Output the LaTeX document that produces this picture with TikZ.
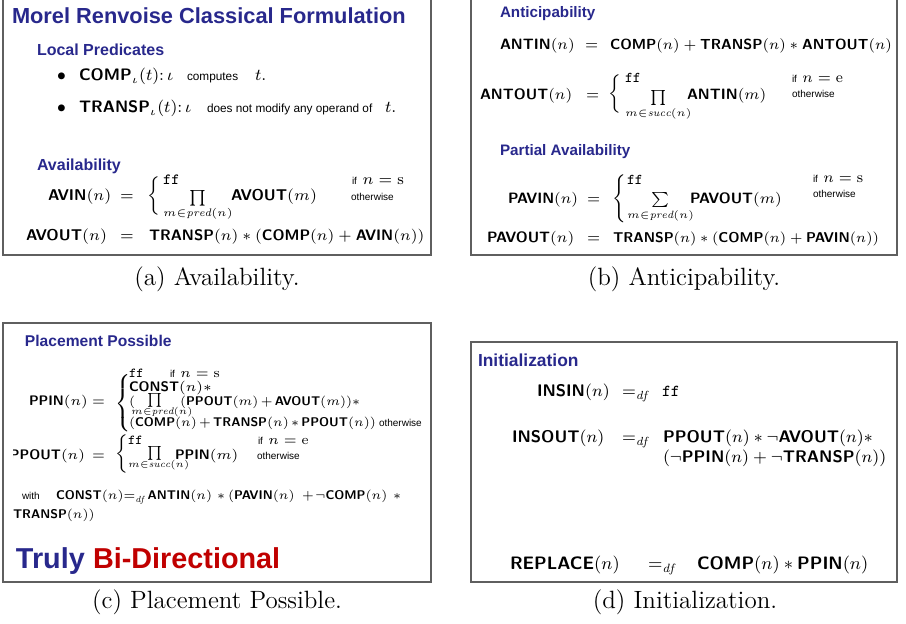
\RequirePackage{fix-cm}
\documentclass[tikz,border=0pt]{standalone}
\usepackage{amsmath}
\usepackage{fontspec}
\newfontfamily\hv{Liberation Sans}
\definecolor{slideblue}{RGB}{40,40,140}
\definecolor{slidered}{RGB}{192,0,0}
\definecolor{panelgray}{RGB}{95,95,95}
% predicate names in bold sans
\newcommand{\Nm}[1]{\mbox{\sffamily\bfseries #1}}
\newcommand{\setsz}[1]{\fontsize{#1}{#1}\selectfont}
% an open brace of a given height, centred on the math axis
\newcommand{\lbr}[1]{$\left\{\vcenter{\hbox{\rule{0pt}{#1pt}}}\right.$}
\begin{document}
\begin{tikzpicture}[x=0.5pt,y=-0.5pt,
  txt/.style={inner sep=0pt,outer sep=0pt,anchor=base west},
  ttl/.style={txt,text=slideblue,font=\hv\bfseries\setsz{10.9}},
  hd/.style={txt,text=slideblue,font=\hv\bfseries\setsz{8}},
  eqa/.style={txt,font=\setsz{7.8}},
  eqbb/.style={txt,font=\setsz{7.5}},
  eqd/.style={txt,font=\setsz{8.4}},
  eqb/.style={txt,font=\setsz{8.3}},
  eqc/.style={txt,font=\setsz{6.9}},
  eqcs/.style={txt,font=\setsz{6.3}},
  eqw/.style={txt,font=\setsz{6.3}},
  sm/.style={txt,font=\hv\setsz{5}},
  smb/.style={txt,font=\hv\setsz{5.9}},
  brace/.style={inner sep=0pt,outer sep=0pt,anchor=west,font=\setsz{8}},
  capt/.style={inner sep=0pt,outer sep=0pt,anchor=base,font=\setsz{12.5}},
  panel/.style={draw=panelgray,line width=0.75pt}]
\useasboundingbox (0,0) rectangle (906,624);

% ---------------- (a) Availability ----------------
\draw[panel] (3,-6) rectangle (431,255);
\node[ttl] (ttlA) at (12,24) {Morel Renvoise Classical Formulation};
\node[hd] (lpA) at (37,56) {Local Predicates};
\node[eqb] (bu1) at (57,81) {$\bullet$};
\node[eqb] (cmpA) at (79,81) {$\Nm{COMP}_{\iota}(t)$:};
\node[eqb] (io1) at (167,81) {$\iota$};
\node[smb] (cpt) at (187,81) {computes};
\node[eqb] (t1) at (255,81) {$t$.};
\node[eqb] (bu2) at (57,113) {$\bullet$};
\node[eqb] (trA) at (79,113) {$\Nm{TRANSP}_{\iota}(t)$:};
\node[eqb] (io2) at (185,113) {$\iota$};
\node[smb] (dnm) at (207,113) {does not modify any operand of};
\node[eqb] (t2) at (385,113) {$t$.};

\node[hd] (avA) at (37,171) {Availability};
\node[eqa] (avin) at (48,201) {$\Nm{AVIN}(n)$};
\node[eqa] (eqA1) at (120,201) {$=$};
\node[brace] (brA) at (147,196) {\lbr{21}};
\node[eqa] (ffA) at (163,185) {$\mathtt{ff}$};
\node[eqa] (prA) at (163,202) {$\prod\limits_{m\in\mathit{pred}(n)}$};
\node[eqa] (avm) at (231,201) {$\Nm{AVOUT}(m)$};
\node[eqa] (ifA) at (352,185) {{\hv\setsz{5}if}\ $n=\mathrm{s}$};
\node[sm] (owA) at (351,201) {otherwise};
\node[eqa] (avout) at (26,241) {$\Nm{AVOUT}(n)$};
\node[eqa] (eqA2) at (120,241) {$=$};
\node[eqa,font=\setsz{7.6}] (rhsA) at (149,241) {$\Nm{TRANSP}(n)*(\Nm{COMP}(n)+\Nm{AVIN}(n))$};
\node[capt] (capA) at (217,286) {(a) Availability.};

% ---------------- (b) Anticipability ----------------
\draw[panel] (471,-6) rectangle (897,255);
\node[hd,font=\hv\bfseries\setsz{7.6}] (antB) at (500,18) {Anticipability};
\node[eqbb] (antin) at (500,50) {$\Nm{ANTIN}(n)$};
\node[eqbb] (eqB1) at (585,50) {$=$};
\node[eqbb,font=\setsz{7.3}] (rhsB1) at (610,50) {$\Nm{COMP}(n)+\Nm{TRANSP}(n)*\Nm{ANTOUT}(n)$};
\node[eqbb] (antout) at (480,100) {$\Nm{ANTOUT}(n)$};
\node[eqbb] (eqB2) at (586,100) {$=$};
\node[brace] (brB1) at (608,94) {\lbr{21}};
\node[eqbb] (ffB1) at (625,83) {$\mathtt{ff}$};
\node[eqbb] (prB) at (625,102) {$\prod\limits_{m\in\mathit{succ}(n)}$};
\node[eqbb] (antm) at (687,100) {$\Nm{ANTIN}(m)$};
\node[eqbb] (ifB1) at (792,83) {{\hv\setsz{5}if}\ $n=\mathrm{e}$};
\node[sm] (owB1) at (792,98) {otherwise};

\node[hd,font=\hv\bfseries\setsz{7.6}] (pavB) at (500,156) {Partial Availability};
\node[eqbb] (pavin) at (508,204) {$\Nm{PAVIN}(n)$};
\node[eqbb] (eqB3) at (587,204) {$=$};
\node[brace] (brB2) at (612,198.5) {\lbr{24}};
\node[eqbb] (ffB2) at (627,185) {$\mathtt{ff}$};
\node[eqbb] (smB) at (627,204) {$\sum\limits_{m\in\mathit{pred}(n)}$};
\node[eqbb] (pavm) at (690,204) {$\Nm{PAVOUT}(m)$};
\node[eqbb] (ifB2) at (813,183) {{\hv\setsz{5}if}\ $n=\mathrm{s}$};
\node[sm] (owB2) at (813,198) {otherwise};
\node[eqbb] (pavout) at (487,243) {$\Nm{PAVOUT}(n)$};
\node[eqbb] (eqB4) at (587,243) {$=$};
\node[eqbb,font=\setsz{7.1}] (rhsB2) at (613,243) {$\Nm{TRANSP}(n)*(\Nm{COMP}(n)+\Nm{PAVIN}(n))$};
\node[capt] (capB) at (684,286) {(b) Anticipability.};

% ---------------- (c) Placement Possible ----------------
\draw[panel] (3,323) rectangle (431,582);
\node[hd,font=\hv\bfseries\setsz{7.8}] (ppC) at (25,347) {Placement Possible};
\node[eqc] (ppin) at (29,406) {$\Nm{PPIN}(n)$};
\node[eqc] (eqC1) at (92,406) {$=$};
\node[brace] (brC1) at (115,403.5) {\lbr{29}};
\node[eqc] (ffC1) at (129,378) {$\mathtt{ff}$};
\node[eqc] (ifC1) at (170,378) {{\hv\setsz{5}if}\ $n=\mathrm{s}$};
\node[eqc] (cst) at (129,392) {$\Nm{CONST}(n)*$};
\node[eqcs] (opC) at (129,406) {$($};
\node[eqc] (prC1) at (147,403.5) {$\prod$};
\node[eqc] (subC1) at (131,415) {$\scriptstyle m\in\mathit{pred}(n)$};
\node[eqcs] (sumC) at (180,406) {$\medmuskip=2.5mu (\Nm{PPOUT}(m)+\Nm{AVOUT}(m))*$};
\node[eqcs] (lastC) at (129,427) {$\medmuskip=2.5mu (\Nm{COMP}(n)+\Nm{TRANSP}(n)*\Nm{PPOUT}(n))$};
\node[sm] (owC1) at (379,427) {otherwise};

\begin{scope}
  \clip (13.5,430) rectangle (120,475);
  \node[eqc] (ppout) at (10,460) {$\Nm{PPOUT}(n)$};
\end{scope}
\node[eqc] (eqC2) at (92,460) {$=$};
\node[brace] (brC2) at (115,454) {\lbr{19}};
\node[eqc] (ffC2) at (128,445) {$\mathtt{ff}$};
\node[eqc] (prC2) at (147,457) {$\prod$};
\node[eqc] (subC2) at (128,468) {$\scriptstyle m\in\mathit{succ}(n)$};
\node[eqc] (ppm) at (175,460) {$\Nm{PPIN}(m)$};
\node[eqc] (ifC2) at (258,445) {{\hv\setsz{5}if}\ $n=\mathrm{e}$};
\node[sm] (owC2) at (257,460) {otherwise};

\node[sm] (with) at (22,500) {with};
\node[eqw] (cdef) at (56,500) {$\Nm{CONST}(n){=_{\mathit{df}}}\,\Nm{ANTIN}(n)$};
\node[eqw] (st1) at (217,500) {$*$};
\node[eqw] (pv) at (228,500) {$(\Nm{PAVIN}(n)$};
\node[eqw] (pl) at (302,500) {$+$};
\node[eqw] (ncp) at (315,500) {$\neg\Nm{COMP}(n)$};
\node[eqw] (st2) at (393,500) {$*$};
\node[eqw] (trC) at (13,519) {$\Nm{TRANSP}(n))$};

\node[txt,text=slideblue,font=\hv\bfseries\setsz{14.4}] (truly) at (16,569) {Truly};
\node[txt,text=slidered,font=\hv\bfseries\setsz{14.4}] (bidir) at (93,569) {Bi-Directional};
\node[capt] (capC) at (217,609) {(c) Placement Possible.};

% ---------------- (d) Initialization ----------------
\draw[panel] (471,342) rectangle (897,582);
\node[hd,font=\hv\bfseries\setsz{8.7}] (initD) at (478,367) {Initialization};
\node[eqd] (insin) at (537,397) {$\Nm{INSIN}(n)$};
\node[eqd] (dfD1) at (622,397) {$=_{\mathit{df}}$};
\node[eqd] (ffD) at (662,397) {$\mathtt{ff}$};
\node[eqd] (insout) at (512,443) {$\Nm{INSOUT}(n)$};
\node[eqd] (dfD2) at (622,443) {$=_{\mathit{df}}$};
\node[eqd] (insr1) at (663,443) {$\Nm{PPOUT}(n)*\neg\Nm{AVOUT}(n)*$};
\node[eqd] (insr2) at (663,463) {$(\neg\Nm{PPIN}(n)+\neg\Nm{TRANSP}(n))$};
\node[eqd,font=\setsz{9}] (repl) at (510,570) {$\Nm{REPLACE}(n)$};
\node[eqd,font=\setsz{9}] (dfD3) at (648,570) {$=_{\mathit{df}}$};
\node[eqd,font=\setsz{9}] (replr) at (697,570) {$\Nm{COMP}(n)*\Nm{PPIN}(n)$};
\node[capt] (capD) at (685,609) {(d) Initialization.};
\end{tikzpicture}
\end{document}
